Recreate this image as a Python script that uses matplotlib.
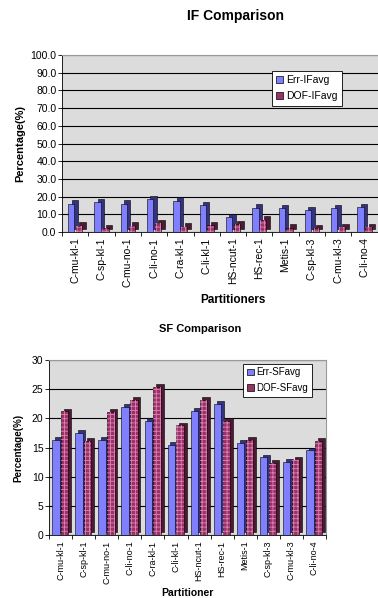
import numpy as np
import matplotlib.pyplot as plt
from matplotlib.transforms import offset_copy

plt.rcParams['font.family'] = ['Liberation Sans', 'DejaVu Sans']
plt.rcParams['hatch.linewidth'] = 0.6

# IF comparison (13th category has no label in the original)
if_parts = ['C-mu-kl-1', 'C-sp-kl-1', 'C-mu-no-1', 'C-li-no-1', 'C-ra-kl-1', 'C-li-kl-1',
            'HS-ncut-1', 'HS-rec-1', 'Metis-1', 'C-sp-kl-3', 'C-mu-kl-3', 'C-li-no-4', '']
if_err = [16.1, 16.7, 16.0, 18.5, 17.6, 15.2, 8.3, 13.7, 13.3, 12.2, 13.5, 13.9, 0.4]
if_dof = [3.5, 2.2, 3.5, 5.0, 3.0, 3.9, 4.4, 6.8, 2.4, 2.0, 2.6, 2.6, 0.0]

# SF comparison
sf_parts = ['C-mu-kl-1', 'C-sp-kl-1', 'C-mu-no-1', 'C-li-no-1', 'C-ra-kl-1', 'C-li-kl-1',
            'HS-ncut-1', 'HS-rec-1', 'Metis-1', 'C-sp-kl-3', 'C-mu-kl-3', 'C-li-no-4']
sf_err = [16.3, 17.5, 16.3, 22.0, 19.6, 15.4, 21.3, 22.5, 15.8, 13.3, 12.5, 14.5]
sf_dof = [21.2, 16.1, 21.1, 23.2, 25.4, 18.8, 23.2, 19.5, 16.3, 12.4, 12.9, 16.2]

blue, blue_side = '#8080ff', '#333380'
plum, plum_side = '#993366', '#4d1a33'

W, H = 378, 598
fig = plt.figure(figsize=(W / 100, H / 100), dpi=100)


def bars3d(ax, x, h, w, face, side, hatch=None, depth=2.5):
    shift = offset_copy(ax.transData, fig=fig, x=depth, y=depth, units='points')
    ax.bar(x, h, w, color=side, edgecolor='black', lw=0.4, transform=shift, zorder=2)
    ax.bar(x, h, w, color=face, edgecolor='black', lw=0.4, zorder=3)
    if hatch:
        ax.bar(x, h, w, fill=False, edgecolor='#e080b8', lw=0, hatch=hatch, zorder=4)


def setup(ax, labels, ymax, step, fmt, lab_fs):
    n = len(labels)
    ax.set_facecolor('#dcdcdc')
    ax.set_xlim(0, n)
    ax.set_ylim(0, ymax)
    ax.set_yticks(np.arange(0, ymax + 0.01, step))
    ax.set_yticklabels([fmt % v for v in np.arange(0, ymax + 0.01, step)], fontsize=7.5)
    ax.set_xticks(np.arange(n) + 0.5)
    ax.set_xticklabels(labels, rotation=90, fontsize=lab_fs)
    ax.set_xticks(np.arange(n + 1), minor=True)
    ax.tick_params(axis='x', which='major', length=0, pad=4)
    ax.tick_params(axis='x', which='minor', length=3, width=0.6)
    ax.tick_params(axis='y', length=3, width=0.6, pad=1)
    ax.yaxis.grid(True, color='black', lw=0.8)
    ax.set_axisbelow(True)
    for s in ['top', 'right']:
        ax.spines[s].set_color('#999999')
    for s in ['left', 'bottom']:
        ax.spines[s].set_linewidth(0.6)


def legend(ax, names, anchor, fs):
    handles = [plt.Rectangle((0, 0), 1, 1, fc=blue, ec='black', lw=0.5),
               plt.Rectangle((0, 0), 1, 1, fc=plum, ec='black', lw=0.5)]
    leg = ax.legend(handles=handles, labels=names, loc='upper left',
                    bbox_to_anchor=anchor, fontsize=fs, fancybox=False,
                    edgecolor='black', framealpha=1, handlelength=0.7,
                    handleheight=0.7, handletextpad=0.3, borderpad=0.4,
                    labelspacing=0.6, borderaxespad=0)
    leg.get_frame().set_linewidth(0.6)


# ---- IF chart ----
ax1 = fig.add_axes([62 / W, 1 - 232 / H, 342 / W, 177 / H])
setup(ax1, if_parts, 100, 10, '%.1f', 7.5)
x = np.arange(len(if_parts))
bars3d(ax1, x + 0.35, if_err, 0.24, blue, blue_side)
bars3d(ax1, x + 0.65, if_dof, 0.24, plum, plum_side, hatch='++++')
ax1.set_xlabel('Partitioners', fontsize=8.5, fontweight='bold', labelpad=5)
ax1.set_ylabel('Percentage(%)', fontsize=8, fontweight='bold', labelpad=4)
legend(ax1, ['Err-IFavg', 'DOF-IFavg'], (210 / 342, 0.91), 7.5)
fig.text(235 / W, 1 - 16 / H, 'IF Comparison', fontsize=10, fontweight='bold',
         ha='center', va='center')

# ---- SF chart ----
ax2 = fig.add_axes([49 / W, 1 - 535 / H, 277 / W, 175 / H])
setup(ax2, sf_parts, 30, 5, '%d', 6.5)
x = np.arange(len(sf_parts))
bars3d(ax2, x + 0.3, sf_err, 0.32, blue, blue_side, depth=2)
bars3d(ax2, x + 0.68, sf_dof, 0.32, plum, plum_side, hatch='++++', depth=2)
ax2.set_xlabel('Partitioner', fontsize=7.5, fontweight='bold', labelpad=3)
ax2.set_ylabel('Percentage(%)', fontsize=7, fontweight='bold', labelpad=6)
legend(ax2, ['Err-SFavg', 'DOF-SFavg'], (194 / 277, 0.98), 7)
fig.text(200 / W, 1 - 329 / H, 'SF Comparison', fontsize=8, fontweight='bold',
         ha='center', va='center')

fig.savefig('out.png', dpi=100)
